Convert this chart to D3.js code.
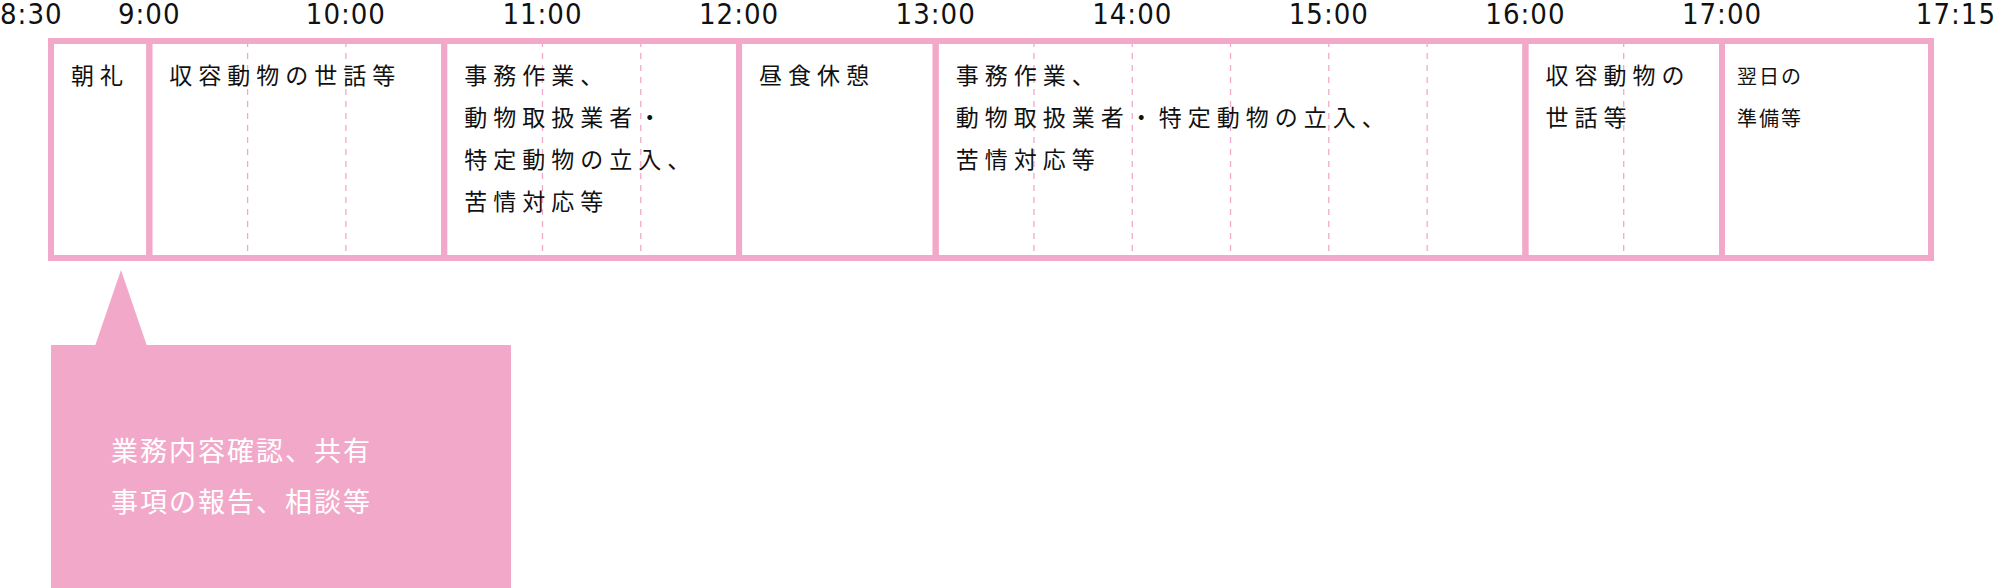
<!DOCTYPE html>
<html><head><meta charset="utf-8">
<script src="https://cdn.jsdelivr.net/npm/d3@7"></script>
<style>body{margin:0;background:#fff}svg{display:block}</style>
</head><body>
<script>
const tickTimes = [8.5, 9, 10, 11, 12, 13, 14, 15, 16, 17, 17.25];
const tickLabels = ["8:30","9:00","10:00","11:00","12:00","13:00","14:00","15:00","16:00","17:00","17:15"];
const segStarts = [8.5, 9, 10.5, 12, 13, 16, 17];
const segEnds = [9, 10.5, 12, 13, 16, 17, 17.25];
const segLabels = [
  ["朝礼"],
  ["収容動物の世話等"],
  ["事務作業、","動物取扱業者・","特定動物の立入、","苦情対応等"],
  ["昼食休憩"],
  ["事務作業、","動物取扱業者・特定動物の立入、","苦情対応等"],
  ["収容動物の","世話等"],
  ["翌日の","準備等"]
];
const dashTimes = [9.5, 10, 11, 11.5, 13.5, 14, 14.5, 15, 15.5, 16.5];
const calloutLines = ["業務内容確認、共有","事項の報告、相談等"];

(function(){
const W = 1996, H = 588, pink = "#f2a9c9";
const svg = d3.select("body").append("svg").attr("width", W).attr("height", H);
const x = d3.scaleLinear().domain([8.5, 17, 17.25]).range([51, 1722, 1931]);
const y0 = 41, y1 = 258;

svg.selectAll("line.dash").data(dashTimes).join("line")
  .attr("x1", d => x(d)).attr("x2", d => x(d)).attr("y1", y0).attr("y2", y1)
  .attr("stroke", pink).attr("stroke-width", 1.3).attr("stroke-dasharray", "6,6");

svg.selectAll("rect.seg").data(segStarts).join("rect")
  .attr("x", d => x(d)).attr("y", y0)
  .attr("width", (d, i) => x(segEnds[i]) - x(d)).attr("height", y1 - y0)
  .attr("fill", "none").attr("stroke", pink).attr("stroke-width", 6);

const small = [false,false,false,false,false,false,true];
segStarts.forEach((s, i) => {
  const t = svg.append("text")
    .attr("font-family", "Noto Sans CJK JP").attr("font-size", small[i] ? 20 : 23)
    .attr("letter-spacing", small[i] ? 2 : 6).attr("fill", "#111");
  segLabels[i].forEach((l, j) => t.append("tspan").attr("x", x(s) + (small[i] ? 15 : 20)).attr("y", 84 + j * 42).text(l));
});

svg.selectAll("text.tick").data(tickTimes).join("text")
  .attr("x", (d, i) => i === 0 ? 0 : i === tickTimes.length - 1 ? W : x(d))
  .attr("y", 24)
  .attr("text-anchor", (d, i) => i === 0 ? "start" : i === tickTimes.length - 1 ? "end" : "middle")
  .attr("font-family", "Liberation Sans Narrow, DejaVu Sans Condensed, sans-serif")
  .attr("font-size", 29).attr("letter-spacing", 1).attr("fill", "#111")
  .text((d, i) => tickLabels[i]);

svg.append("path").attr("d", `M${x(8.5)+70},270 L${x(8.5)+44},346 L${x(8.5)+96},346 Z`).attr("fill", pink);
svg.append("rect").attr("x", 51).attr("y", 345).attr("width", 460).attr("height", 243).attr("fill", pink);
svg.selectAll("text.call").data(calloutLines).join("text")
  .attr("x", 111).attr("y", (d, i) => 461 + i * 51)
  .attr("font-family", "Noto Sans CJK JP").attr("font-size", 27).attr("letter-spacing", 2)
  .attr("fill", "#fff").text(d => d);
})();
</script>
</body></html>
